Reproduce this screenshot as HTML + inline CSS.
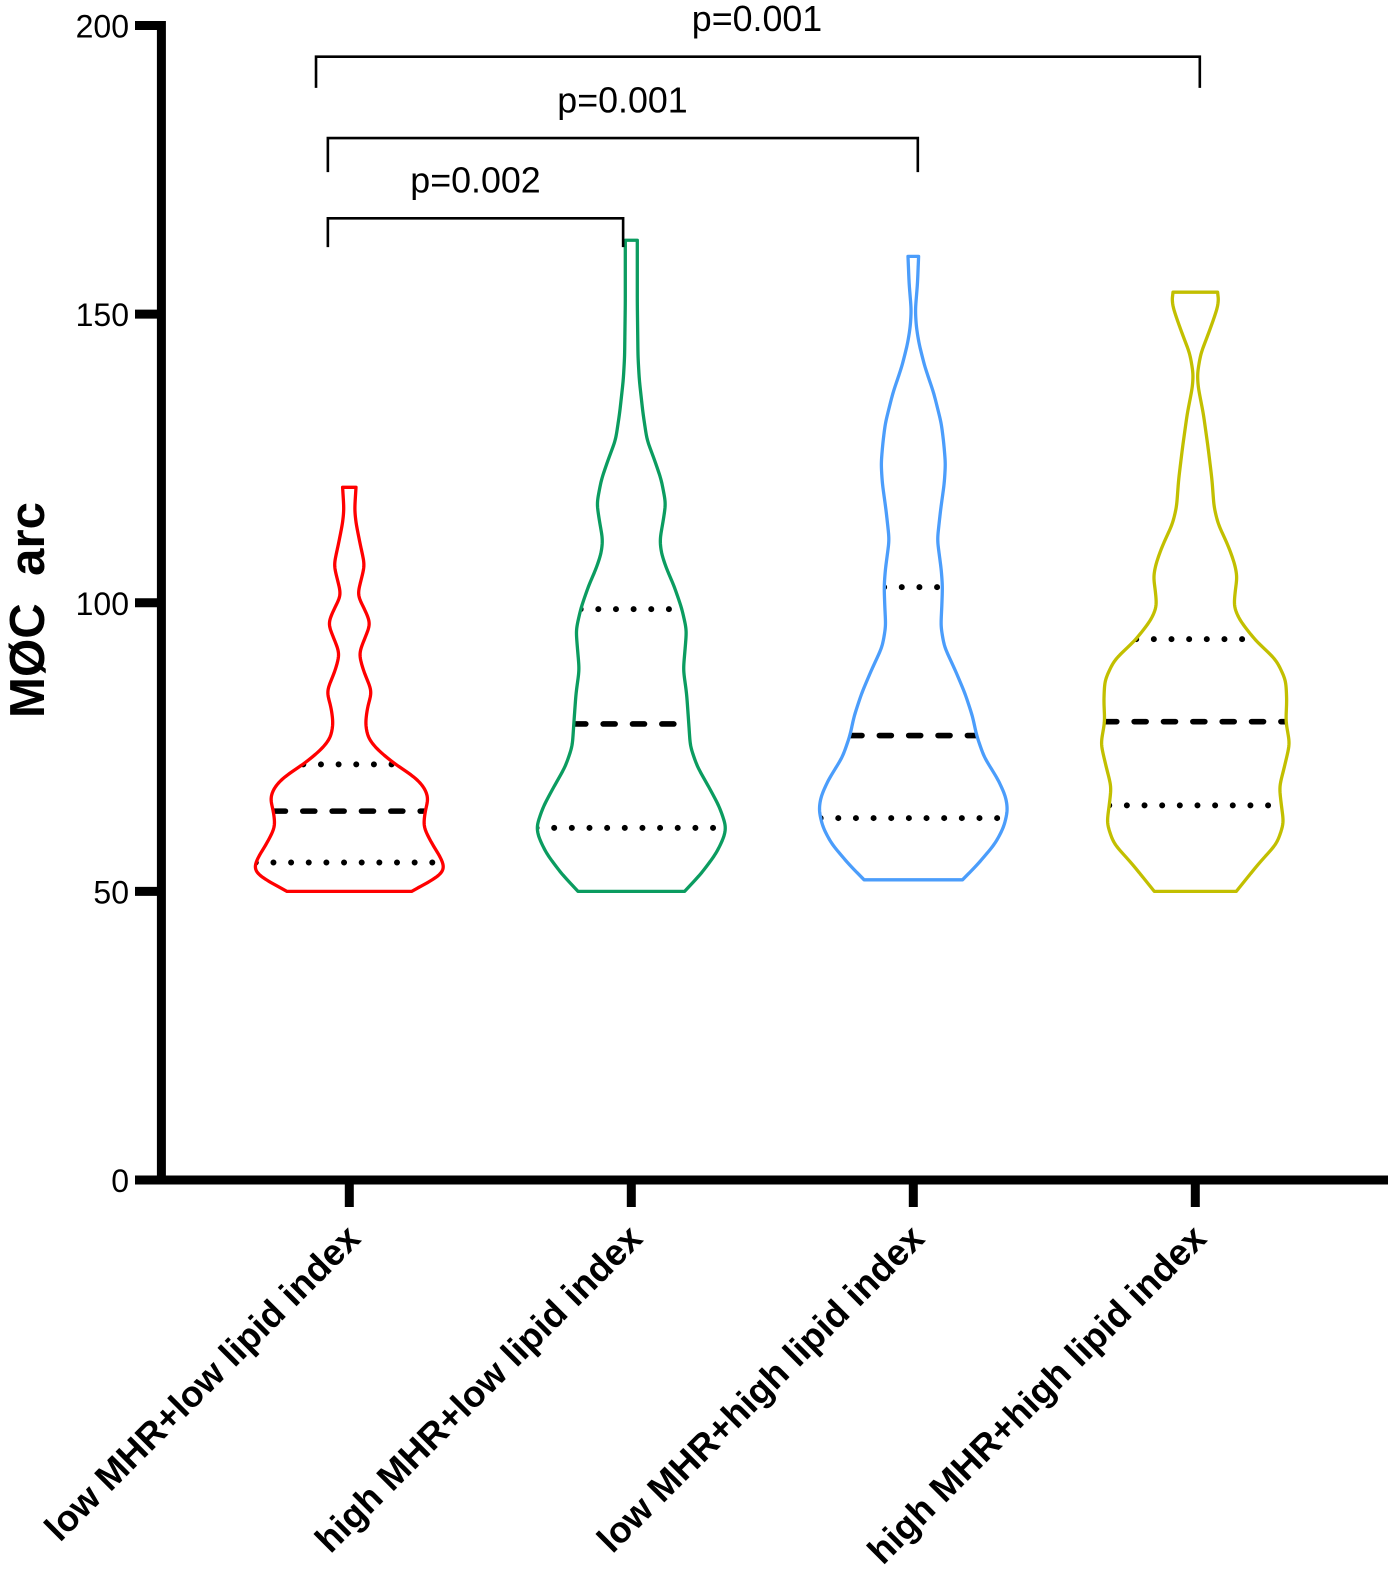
<!DOCTYPE html>
<html lang="en">
<head>
<meta charset="utf-8">
<title>MØC arc violin plot</title>
<style>
html,body{margin:0;padding:0;background:#fff;width:1395px;height:1569px;overflow:hidden}
svg{display:block}
text{font-family:"Liberation Sans",Arial,sans-serif;fill:#000}
</style>
</head>
<body>
<svg id="chart" xmlns="http://www.w3.org/2000/svg" width="1395" height="1569" viewBox="0 0 1395 1569"></svg>
<script>
const categories = ["low MHR+low lipid index", "high MHR+low lipid index", "low MHR+high lipid index", "high MHR+high lipid index"];
const yTickValues = [0, 50, 100, 150, 200];
const yTitle = "MØC  arc";

const valuesLowLow = [120,116.1,113.8,110.3,106.5,103.9,101.3,99,96.4,93.5,91.2,88.3,84.6,82,79.1,76.5,74.5,71.9,69.9,68.1,66.1,64.1,61.2,58.3,56,54,52.8,51.7,50];
const densityLowLow = [.067,.053,.067,.107,.155,.117,.08,.15,.215,.147,.095,.14,.228,.183,.16,.187,.283,.467,.65,.75,.795,.76,.74,.825,.91,.96,.92,.8,.623];

const valuesHighLow = [162.8,151.9,142.6,138.6,132.8,128.2,124.7,121.3,117.2,114.3,110.9,108.6,106,102.8,99,95.3,92.4,88.4,84.3,79,75.1,71.6,68.1,64.7,61.2,59.5,56.6,53.1,50];
const densityHighLow = [.06,.06,.067,.08,.117,.157,.233,.3,.345,.32,.285,.3,.35,.43,.505,.553,.54,.52,.553,.575,.59,.66,.775,.88,.95,.93,.85,.7,.533];

const valuesLowHigh = [160,155.3,150.7,147.8,144.9,140.9,136.3,131.1,127.6,124.1,120.7,116.1,110.9,105.7,102.8,99.3,95.9,92.4,88.4,84.3,80.3,77,73.3,69.3,66.4,64.1,61.2,58.3,54.8,52];
const densityLowHigh = [.053,.042,.02,.03,.057,.115,.205,.28,.305,.322,.31,.273,.24,.28,.292,.285,.275,.31,.417,.517,.593,.633,.707,.85,.925,.945,.907,.82,.65,.492];

const valuesHighHigh = [153.8,151.9,149.6,146.1,143.2,139.7,137.4,132.8,127,121.3,116.6,113.7,109.7,106.8,104.5,102.2,99.3,97,93.5,90.1,86.6,83.1,79.4,75.6,72.2,68.1,65,61.8,58.3,54.8,50];
const densityHighHigh = [.223,.235,.193,.12,.055,.02,.028,.08,.127,.167,.187,.227,.333,.393,.42,.4,.385,.443,.6,.81,.905,.915,.905,.945,.9,.84,.86,.885,.817,.633,.41];

const seriesValues = [valuesLowLow, valuesHighLow, valuesLowHigh, valuesHighHigh];
const seriesDensity = [densityLowLow, densityHighLow, densityLowHigh, densityHighHigh];
const quartile1 = [55, 61, 62.7, 64.9];
const medians = [63.9, 79, 77, 79.4];
const quartile3 = [72, 98.9, 102.7, 93.7];
const seriesColors = ["#ff0000", "#0b9c60", "#4b9dfb", "#c2bf00"];
const seriesNames = ["low-low", "high-low", "low-high", "high-high"];

const bracketLabels = ["p=0.002", "p=0.001", "p=0.001"];
const bracketTops = [166.6, 180.5, 194.6];
const bracketLeftEnds = [161.6, 174.6, 189.2];
const bracketRightEnds = [161.6, 174.6, 189.2];
const bracketFrom = [-0.076, -0.076, -0.118];
const bracketTo = [0.971, 2.016, 3.016];

const svg = document.getElementById('chart');
const NS = 'http://www.w3.org/2000/svg';
const y = v => 1180 - v * 5.7725;
const x = c => 349.3 + c * 282;
const widthScale = 100;

function make(tag, attrs, text) {
  const el = document.createElementNS(NS, tag);
  for (const k in attrs) el.setAttribute(k, attrs[k]);
  if (text !== undefined) el.textContent = text;
  svg.appendChild(el);
  return el;
}

function densityAt(vals, dens, v) {
  if (v >= vals[0]) return dens[0];
  for (let i = 0; i < vals.length - 1; i++) {
    if (v <= vals[i] && v >= vals[i + 1]) {
      const t = (vals[i] - v) / (vals[i] - vals[i + 1]);
      return dens[i] + t * (dens[i + 1] - dens[i]);
    }
  }
  return dens[dens.length - 1];
}

/* resample the density profile per pixel and soften the corners of the hand-read points */
function profile(vals, dens) {
  const top = y(vals[0]), bottom = y(vals[vals.length - 1]);
  const n = Math.ceil(bottom - top);
  const raw = [];
  for (let i = 0; i <= n; i++) {
    const py = top + (bottom - top) * i / n;
    raw.push([py, densityAt(vals, dens, (1180 - py) / 5.7725)]);
  }
  const sigma = 5;
  return raw.map((p, i) => {
    const r = Math.min(15, i, n - i);
    let sum = 0, w = 0;
    for (let k = -r; k <= r; k++) {
      const g = Math.exp(-k * k / (2 * sigma * sigma));
      sum += g * raw[i + k][1];
      w += g;
    }
    return [p[0], sum / w];
  });
}

/* violins: quartile lines first (clipped to the body), outline on top */
seriesValues.forEach((vals, s) => {
  const dens = seriesDensity[s];
  const cx = x(s);
  const prof = profile(vals, dens);
  const right = prof.map(p => (cx + p[1] * widthScale).toFixed(2) + ' ' + p[0].toFixed(2));
  const left = prof.map(p => (cx - p[1] * widthScale).toFixed(2) + ' ' + p[0].toFixed(2)).reverse();
  const d = 'M' + right.join('L') + 'L' + left.join('L') + 'Z';

  const clip = make('clipPath', { id: 'clip-' + s });
  const clipShape = document.createElementNS(NS, 'path');
  clipShape.setAttribute('d', d);
  clip.appendChild(clipShape);

  const quartLine = (v, kind) => {
    const hw = densityAt(vals, dens, v) * widthScale;
    const isMedian = kind === 'median';
    const el = make('line', {
      x1: cx - hw, x2: cx + hw + 6, y1: y(v), y2: y(v),
      stroke: '#000', 'stroke-linecap': 'round',
      'stroke-width': isMedian ? 5.6 : 6,
      'stroke-dasharray': isMedian ? '12 17.35' : '0 17.65',
      'clip-path': 'url(#clip-' + s + ')'
    });
    
    
  };
  quartLine(quartile1[s], 'q1');
  quartLine(medians[s], 'median');
  quartLine(quartile3[s], 'q3');

  const path = make('path', {
    d: d, fill: 'none', stroke: seriesColors[s], 'stroke-width': 3.3, 'stroke-linejoin': 'round'
  });
  
  
});

/* axes */
const yAxisLine = make('line', { x1: 161.4, x2: 161.4, y1: y(200) - 4.5, y2: y(0) + 4.5, stroke: '#000', 'stroke-width': 9 });


const xAxisLine = make('line', { x1: 135, x2: 1388, y1: y(0), y2: y(0), stroke: '#000', 'stroke-width': 9 });



yTickValues.forEach(v => {
  const tick = make('line', { x1: 135, x2: 161, y1: y(v), y2: y(v), stroke: '#000', 'stroke-width': 9 });
  
  
  const label = make('text', { x: 129, y: y(v) + 12, 'text-anchor': 'end', 'font-size': 32 }, String(v));
  
  
});

categories.forEach((c, i) => {
  const tick = make('line', { x1: x(i), x2: x(i), y1: y(0), y2: 1207, stroke: '#000', 'stroke-width': 9 });
  
  
  const label = make('text', {
    transform: 'translate(' + (x(i) + 13) + ' 1240.5) rotate(-45)',
    'text-anchor': 'end', 'font-size': 36.6, 'font-weight': 'bold'
  }, c);
  
  
});

const title = make('text', {
  transform: 'translate(44 610) rotate(-90)', 'text-anchor': 'middle',
  'font-size': 49.2, 'font-weight': 'bold', style: 'white-space:pre'
}, yTitle);



/* significance brackets */
bracketLabels.forEach((t, i) => {
  const xa = x(bracketFrom[i]), xb = x(bracketTo[i]);
  const d = 'M' + xa + ' ' + y(bracketLeftEnds[i]) + 'V' + y(bracketTops[i]) + 'H' + xb + 'V' + y(bracketRightEnds[i]);
  const b = make('path', { d: d, fill: 'none', stroke: '#000', 'stroke-width': 2.6 });
  
  
  const labelX = [475.5, 622.5, 757][i];
  const lab = make('text', { x: labelX, y: y(bracketTops[i]) - 25.8, 'text-anchor': 'middle', 'font-size': 35.8 }, t);
  
  
});
</script>
</body>
</html>
